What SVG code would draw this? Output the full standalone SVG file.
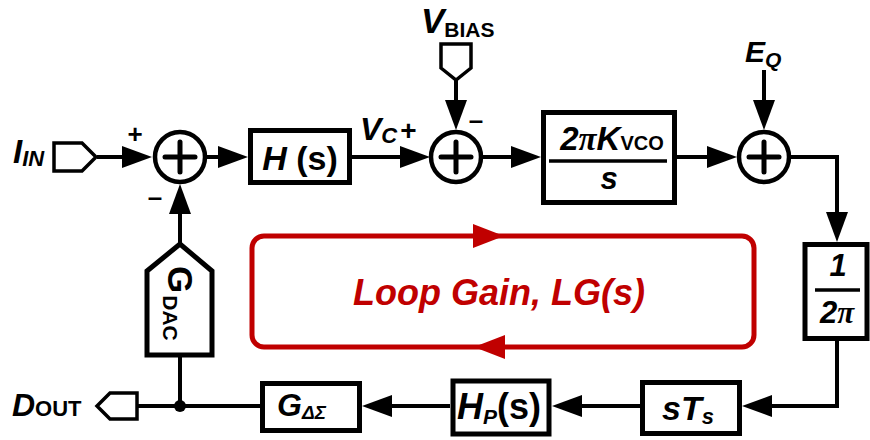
<svg xmlns="http://www.w3.org/2000/svg" width="870" height="440" viewBox="0 0 870 440">
<style>
  .blk { fill: #fff; stroke: #000; stroke-width: 5; }
  .port { fill: #fff; stroke: #000; stroke-width: 3.5; stroke-linejoin: miter; }
  .sum { fill: #fff; stroke: #000; stroke-width: 4.5; }
  .plus { stroke: #000; stroke-width: 5; stroke-linecap: round; }
  .wire { fill: none; stroke: #000; stroke-width: 4; }
  .t { font-family: "Liberation Sans", Arial, sans-serif; font-weight: bold; fill: #000; }
  .it { font-style: italic; }
  .pi { font-family: "Liberation Serif", "Times New Roman", serif; font-style: italic; }
  .red { fill: #c00000; }
</style>
<defs>
  <marker id="arr" markerUnits="userSpaceOnUse" markerWidth="30" markerHeight="22" refX="20" refY="11" orient="auto" overflow="visible">
    <path d="M0,0 L30,11 L0,22 Z" fill="#000"/>
  </marker>
  <g id="plusSign">
    <line class="plus" x1="-15" y1="0" x2="15" y2="0"/>
    <line class="plus" x1="0" y1="-15" x2="0" y2="15"/>
  </g>
</defs>

<g id="connectors">
  <path class="wire" d="M97,157 H142" marker-end="url(#arr)"/>
  <path class="wire" d="M207,157 H238" marker-end="url(#arr)"/>
  <path class="wire" d="M352,157 H420" marker-end="url(#arr)"/>
  <path class="wire" d="M456,80 V120" marker-end="url(#arr)"/>
  <path class="wire" d="M483,157 H531" marker-end="url(#arr)"/>
  <path class="wire" d="M677,157 H727" marker-end="url(#arr)"/>
  <path class="wire" d="M764,70 V120" marker-end="url(#arr)"/>
  <path class="wire" d="M791,157 H837 V232" marker-end="url(#arr)"/>
  <path class="wire" d="M837,340 V406 H752" marker-end="url(#arr)"/>
  <path class="wire" d="M640,406 H562" marker-end="url(#arr)"/>
  <path class="wire" d="M450,406 H372" marker-end="url(#arr)"/>
  <path class="wire" d="M260,406 H137"/>
  <path class="wire" d="M180,406 V355"/>
  <path class="wire" d="M180,244 V194" marker-end="url(#arr)"/>
  <circle cx="180" cy="406" r="6" fill="#000"/>
</g>

<g id="in_port">
  <path class="port" d="M54,143 H82 L96,157 L82,171 H54 Z"/>
  <text class="t it" x="13" y="163" font-size="33">I<tspan font-size="22" dy="3">IN</tspan></text>
</g>

<g id="sum1">
  <circle class="sum" cx="180" cy="157" r="25"/>
  <use href="#plusSign" x="180" y="157"/>
  <text class="t" x="135" y="143" font-size="26" text-anchor="middle">+</text>
  <text class="t" x="155" y="206" font-size="26" text-anchor="middle">–</text>
</g>

<g id="H">
  <rect class="blk" x="250.5" y="130.5" width="99" height="52"/>
  <text class="t" x="300" y="170" font-size="34" text-anchor="middle"><tspan class="it">H</tspan> (s)</text>
</g>

<g id="vc_label">
  <text class="t it" x="360" y="140" font-size="32">V<tspan font-size="22" dy="3">C</tspan><tspan font-style="normal" font-size="28" dy="-3" dx="3">+</tspan></text>
</g>

<g id="vbias">
  <path class="port" d="M441,44 H471 V68 L456,80 L441,68 Z"/>
  <text class="t it" x="421" y="33" font-size="35">V<tspan font-style="normal" font-size="21" dy="4">BIAS</tspan></text>
</g>

<g id="sum2">
  <circle class="sum" cx="456" cy="157" r="25"/>
  <use href="#plusSign" x="456" y="157"/>
  <text class="t" x="476" y="129" font-size="26" text-anchor="middle">–</text>
</g>

<g id="vco">
  <rect class="blk" x="543.5" y="112.5" width="131" height="90"/>
  <line x1="549" y1="161" x2="667" y2="161" stroke="#000" stroke-width="3.5"/>
  <text class="t" x="612" y="150" font-size="33" text-anchor="middle"><tspan class="it">2</tspan><tspan class="pi">π</tspan><tspan class="it">K</tspan><tspan font-size="20">VCO</tspan></text>
  <text class="t it" x="609" y="189" font-size="31" text-anchor="middle">s</text>
</g>

<g id="sum3">
  <circle class="sum" cx="764" cy="157" r="25"/>
  <use href="#plusSign" x="764" y="157"/>
  <text class="t it" x="745" y="62" font-size="30">E<tspan font-size="21" dy="5">Q</tspan></text>
</g>

<g id="inv2pi">
  <rect class="blk" x="805" y="244.5" width="62" height="94"/>
  <line x1="815" y1="290" x2="860" y2="290" stroke="#000" stroke-width="3.5"/>
  <text class="t it" x="838" y="276" font-size="31" text-anchor="middle">1</text>
  <text class="t" x="837" y="323" font-size="31" text-anchor="middle"><tspan class="it">2</tspan><tspan class="pi">π</tspan></text>
</g>

<g id="sTs">
  <rect class="blk" x="642.5" y="382.5" width="97" height="51"/>
  <text class="t it" x="662" y="420" font-size="34">sT<tspan font-size="22" dy="4">s</tspan></text>
</g>

<g id="Hp">
  <rect class="blk" x="453" y="381" width="96" height="53" stroke-width="6"/>
  <text class="t" x="457" y="419" font-size="36"><tspan class="it">H</tspan><tspan class="it" font-size="21" dy="5">P</tspan><tspan dy="-5">(s)</tspan></text>
</g>

<g id="Gds">
  <rect class="blk" x="262.5" y="383.5" width="97" height="47"/>
  <text class="t it" x="277" y="416" font-size="32">G<tspan font-size="19" dy="3">ΔΣ</tspan></text>
</g>

<g id="dout">
  <path class="port" d="M137,393 H110 L97,406 L110,419 H137 Z"/>
  <text class="t it" x="12" y="416" font-size="32">D<tspan font-style="normal" font-size="22">OUT</tspan></text>
</g>

<g id="Gdac">
  <path class="blk" d="M147,355 V271 L180,244 L212,271 V355 Z"/>
  <text class="t" transform="translate(168,266) rotate(90)" font-size="35">G<tspan font-size="21" dy="5" dx="2">DAC</tspan></text>
</g>

<g id="loopgain">
  <rect x="252" y="236" width="502" height="111" rx="12" fill="none" stroke="#c00000" stroke-width="5"/>
  <polygon class="red" points="504,236 473,224 473,248"/>
  <polygon class="red" points="474,347 505,335 505,359"/>
  <text class="t it red" x="499" y="305" font-size="36" text-anchor="middle">Loop Gain, LG(s)</text>
</g>
</svg>
